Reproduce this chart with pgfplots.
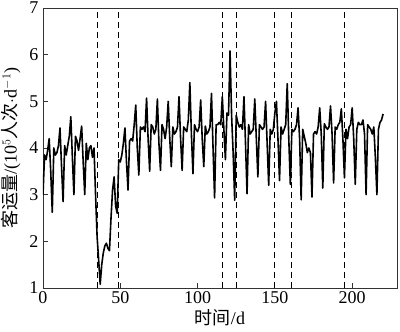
\documentclass[border=0pt]{standalone}
\usepackage{fontspec}
\setmainfont{Liberation Serif}
\newfontfamily\cjk{Noto Sans CJK SC}
\usepackage{pgfplots}
\pgfplotsset{compat=1.18}
\begin{document}
\begin{tikzpicture}
\begin{axis}[
  name=ax,
  scale only axis,
  width=354pt, height=280pt,
  xmin=0, xmax=229, ymin=1, ymax=7,
  xtick={0,50,100,150,200},
  ytick={1,2,3,4,5,6,7},
  tick align=inside,
  xtick pos=left, ytick pos=left,
  major tick length=5pt,
  /pgf/number format/assume math mode=true,
  tick label style={font=\fontsize{18}{20}\selectfont},
  yticklabel style={xshift=-1pt},
  xlabel={{\cjk 时间}/d},
  ylabel={{\cjk 客运量}/(10$^5${\cjk 人次}$\cdot$d$^{-1}$)},
  every axis x label/.style={at={([yshift=-30pt]axis description cs:0.5,0)}, anchor=center, font=\fontsize{18}{20}\selectfont},
  every axis y label/.style={at={([xshift=-32pt]axis description cs:0,0.5)}, anchor=center, rotate=90, font=\fontsize{18}{20}\selectfont},
  axis line style={line width=0.9pt, black!80},
  every tick/.style={black!80, line width=0.9pt},
]
\addplot[black, line width=1.6pt, line join=round] table {
x y
0 3.00
1 3.85
2 3.75
3 3.95
4 4.20
5 3.50
6 2.62
7 4.00
8 3.85
9 3.90
10 4.05
11 4.43
12 3.60
13 2.85
14 4.05
15 3.85
16 4.05
17 4.25
18 4.67
19 3.80
20 3.00
21 4.25
22 4.15
23 3.95
24 4.20
25 4.47
26 3.70
27 3.00
28 4.10
29 3.75
30 4.00
31 4.05
32 3.80
33 4.00
34 3.00
35 2.10
36 1.60
37 1.08
38 1.50
39 1.75
40 1.90
41 1.96
42 1.85
43 1.80
44 2.50
45 3.10
46 3.38
47 2.75
48 2.60
49 3.75
50 3.70
51 3.85
52 4.10
53 4.43
54 3.70
55 3.10
56 4.15
57 4.20
58 4.15
59 4.50
60 4.92
61 4.00
62 3.42
63 4.45
64 4.40
65 4.45
66 4.35
67 5.07
68 4.20
69 3.50
70 4.50
71 4.45
72 4.30
73 4.40
74 5.05
75 4.10
76 3.52
77 4.50
78 4.40
79 4.20
80 4.45
81 5.00
82 4.20
83 3.60
84 4.45
85 4.30
86 4.35
87 4.45
88 5.10
89 4.20
90 3.52
91 4.45
92 4.40
93 4.35
94 4.60
95 5.40
96 4.30
97 3.45
98 4.50
99 4.40
100 4.35
101 4.45
102 5.03
103 4.20
104 3.60
105 4.47
106 4.30
107 4.35
108 4.45
109 5.17
110 4.00
111 2.93
112 4.50
113 4.50
114 4.55
115 4.50
116 5.10
117 4.40
118 3.75
119 4.75
120 4.70
121 6.08
122 4.70
123 3.90
124 2.88
125 4.70
126 4.55
127 4.45
128 4.50
129 4.40
130 5.10
131 4.10
132 3.02
133 4.50
134 4.30
135 4.35
136 4.40
137 5.05
138 4.20
139 3.38
140 4.50
141 4.45
142 4.40
143 4.45
144 5.00
145 4.10
146 3.20
147 4.40
148 4.30
149 4.40
150 4.75
151 5.00
152 4.20
153 3.30
154 4.45
155 4.30
156 4.40
157 4.50
158 5.38
159 4.20
160 3.22
161 4.40
162 4.35
163 4.40
164 4.50
165 4.86
166 4.20
167 2.89
168 4.40
169 4.25
170 4.10
171 3.90
172 4.00
173 3.90
174 2.95
175 4.30
176 4.35
177 4.30
178 4.45
179 4.86
180 4.30
181 3.14
182 4.52
183 4.45
184 4.40
185 4.45
186 4.90
187 4.30
188 3.25
189 4.45
190 4.40
191 4.50
192 4.55
193 4.84
194 4.20
195 3.36
196 4.40
197 4.20
198 4.45
199 4.50
200 4.86
201 4.20
202 3.22
203 4.40
204 4.55
205 4.50
206 4.50
207 4.60
208 4.30
209 3.00
210 4.50
211 4.45
212 4.40
213 4.30
214 4.45
215 3.80
216 3.00
217 4.40
218 4.55
219 4.60
220 4.73
};
\pgfplotsinvokeforeach{35,49,116,125,150,161,195}{
  \addplot[black, line width=1.1pt, dash pattern=on 6pt off 4pt] coordinates {(#1,1) (#1,7)};
}
\end{axis}
\pgfresetboundingbox
\path ([xshift=-43pt,yshift=-44pt]ax.south west) rectangle ([xshift=3pt,yshift=8pt]ax.north east);
\end{tikzpicture}
\end{document}
